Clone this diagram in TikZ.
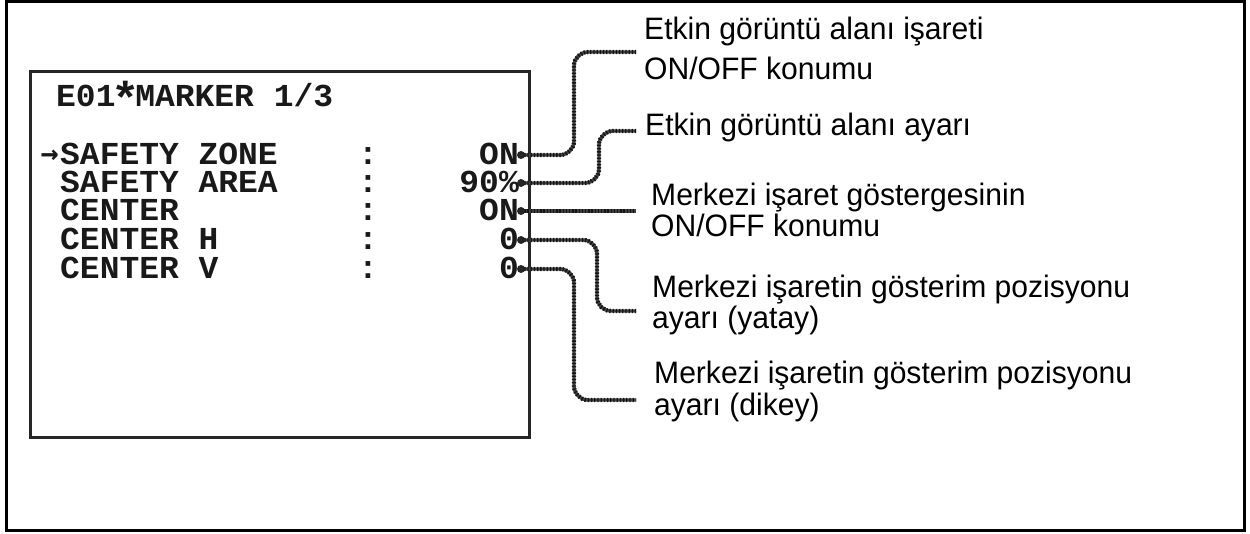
\documentclass[tikz,border=0pt]{standalone}
\usepackage{fontspec}
\setmainfont[FakeStretch=0.97]{Liberation Sans}
\newfontfamily\osd[FakeStretch=1.03]{Liberation Mono}
\newfontfamily\arrfont{DejaVu Sans Mono}
\begin{document}
\begin{tikzpicture}[x=1pt,y=-1pt,
  osdtext/.style={inner sep=0pt,text height=22pt,text depth=1pt,font=\osd\bfseries\fontsize{32}{32}\selectfont,text=black!90},
  rowlabel/.style={osdtext,anchor=base west},
  rowvalue/.style={osdtext,anchor=base east},
  colontext/.style={osdtext,anchor=base},
  callout/.style={inner sep=0pt,anchor=base west,font=\fontsize{31}{31}\selectfont,text=black},
  leaderbase/.style={draw=black!75,line width=3.4pt,rounded corners=14pt},
  leaderbeads/.style={draw=black!92,line width=4.4pt,rounded corners=14pt,dash pattern=on 1.3pt off 1.9pt}
]
\useasboundingbox (0,0) rectangle (1250,534);
% outer frame
\draw[line width=3pt] (6,1.5) rectangle (1244.5,530.5);
% screen box
\draw[line width=3pt,black!85] (30,72) rectangle (529,437);

% title
\node[rowlabel] (title) at (56,107) {E01\makebox[19.8pt]{\raisebox{-8pt}{\fontsize{46}{46}\selectfont *}}MARKER 1/3};

% menu rows
\node[rowlabel] (r1) at (60,165) {SAFETY ZONE};
\node[osdtext,anchor=base east,font=\arrfont\bfseries\fontsize{30}{30}\selectfont] (cursor) at (59,164) {→};
\node[rowlabel] (r2) at (60,193) {SAFETY AREA};
\node[rowlabel] (r3) at (60,221) {CENTER};
\node[rowlabel] (r4) at (60,250) {CENTER H};
\node[rowlabel] (r5) at (60,279) {CENTER V};

\node[colontext] (c1) at (368,165) {:};
\node[colontext] (c2) at (368,193) {:};
\node[colontext] (c3) at (368,221) {:};
\node[colontext] (c4) at (368,250) {:};
\node[colontext] (c5) at (368,279) {:};

\node[rowvalue] (v1) at (519,165) {ON};
\node[rowvalue] (v2) at (519,193) {90\%};
\node[rowvalue] (v3) at (519,221) {ON};
\node[rowvalue] (v4) at (519,250) {0};
\node[rowvalue] (v5) at (519,279) {0};

% callout texts
\node[callout] (l1a) at (644,40) {Etkin görüntü alanı işareti};
\node[callout] (l1b) at (644,80) {ON/OFF konumu};
\node[callout] (l2) at (645,136) {Etkin görüntü alanı ayarı};
\node[callout] (l3a) at (651,206) {Merkezi işaret göstergesinin};
\node[callout] (l3b) at (651,237) {ON/OFF konumu};
\node[callout] (l4a) at (652,298) {Merkezi işaretin gösterim pozisyonu};
\node[callout] (l4b) at (652,329) {ayarı (yatay)};
\node[callout] (l5a) at (654,384) {Merkezi işaretin gösterim pozisyonu};
\node[callout] (l5b) at (654,415) {ayarı (dikey)};

% leader end points
\coordinate (e1) at (636,52);
\coordinate (e2) at (636,131);
\coordinate (e3) at (636,211);
\coordinate (e4) at (636,311);
\coordinate (e5) at (636,400);
\coordinate (s1) at ([xshift=2pt,yshift=10pt]v1.base east);
\coordinate (s2) at ([xshift=2pt,yshift=10pt]v2.base east);
\coordinate (s3) at ([xshift=2pt,yshift=10pt]v3.base east);
\coordinate (s4) at ([xshift=2pt,yshift=10pt]v4.base east);
\coordinate (s5) at ([xshift=2pt,yshift=10pt]v5.base east);

% leaders
\foreach \st in {leaderbase,leaderbeads}{
  \draw[\st] (s1) -| (574,52) -- (e1);
  \draw[\st] (s2) -| (599,131) -- (e2);
  \draw[\st] (s3) -- (e3);
  \draw[\st] (s4) -| (597,311) -- (e4);
  \draw[\st] (s5) -| (574,400) -- (e5);
}
\foreach \s in {s1,s2,s3,s4,s5}{\fill[black!85] (\s) circle (4pt);}
\end{tikzpicture}
\end{document}
